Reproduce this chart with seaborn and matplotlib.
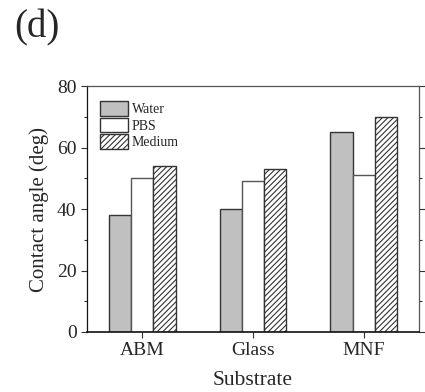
import matplotlib
matplotlib.use("Agg")
import matplotlib.pyplot as plt
import seaborn as sns
import pandas as pd
from matplotlib.ticker import MultipleLocator
from matplotlib.patches import Patch

substrates = ["ABM", "Glass", "MNF"]
liquids = ["Water", "PBS", "Medium"]
water = [38, 40, 65]
pbs = [50, 49, 51]
medium = [54, 53, 70]

df = pd.DataFrame({
    "Substrate": substrates * 3,
    "Liquid": ["Water"] * 3 + ["PBS"] * 3 + ["Medium"] * 3,
    "Angle": water + pbs + medium,
})

sns.set_style("ticks")
plt.rcParams["font.family"] = ["Liberation Serif", "DejaVu Serif"]
plt.rcParams["hatch.linewidth"] = 0.8

fig = plt.figure(figsize=(4.25, 3.92), dpi=100)
ax = fig.add_axes([87/425, 1-332/392, (419-87)/425, (332-86)/392])

colors = {"Water": "#c0c0c0", "PBS": "#ffffff", "Medium": "#ffffff"}
hatches = {"Water": "", "PBS": "", "Medium": "//////"}
sns.barplot(data=df, x="Substrate", y="Angle", hue="Liquid", order=substrates,
            hue_order=liquids, palette=colors, width=0.6, gap=0,
            edgecolor="#333333", linewidth=1.0, ax=ax, legend=False, saturation=1)

for cont, liq in zip(ax.containers, liquids):
    for bar in cont:
        bar.set_hatch(hatches[liq])
        if liq == "PBS":
            bar.set_edgecolor("#555555")

ax.set_xlim(-0.5, 2.5)
ax.set_ylim(0, 80)
ax.yaxis.set_major_locator(MultipleLocator(20))
ax.yaxis.set_minor_locator(MultipleLocator(10))
ax.tick_params(axis="both", which="both", direction="out", top=True, right=True,
               labelsize=14, width=0.8, color="#333333")
ax.tick_params(which="major", length=4)
ax.tick_params(which="minor", length=2.5)
ax.tick_params(axis="x", top=False)
for s in ax.spines.values():
    s.set_linewidth(0.9)
    s.set_color("#555555")
ax.spines["bottom"].set_color("#111111")
ax.spines["left"].set_color("#111111")
ax.spines["bottom"].set_linewidth(1.2)
ax.set_xlabel("Substrate", fontsize=15.5, labelpad=8)
ax.set_ylabel("Contact angle (deg)", fontsize=15, labelpad=6)

handles = [Patch(facecolor=colors[l], edgecolor="#333333", hatch=hatches[l], linewidth=1.0, label=l)
           for l in liquids]
ax.legend(handles=handles, loc="upper left", frameon=False, fontsize=10,
          handlelength=2.0, handleheight=1.25, handletextpad=0.3, labelspacing=0.12,
          bbox_to_anchor=(13/332, 1-15/246), borderaxespad=0.0, borderpad=0.0)

fig.text(14/425, 1-28/392, "(d)", fontsize=28, va="center", ha="left")

fig.savefig("out.png", dpi=100)
